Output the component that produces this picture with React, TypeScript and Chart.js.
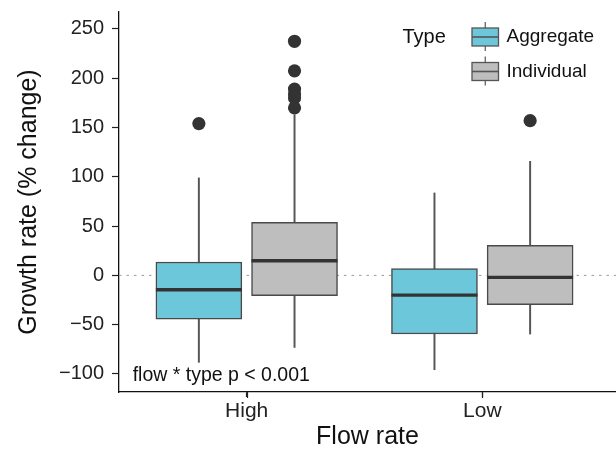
import React, { useEffect, useRef } from "react";
import { Chart, registerables } from "chart.js";

Chart.register(...registerables);

// ---------- data ----------
const flowRates = ["High", "Low"];
const types = ["Aggregate", "Individual"];
const typeColors = ["#6DC7DA", "#BEBEBE"];

// [type][flowRate]
const q1 = [
  [-44.3, -59.5],
  [-20.6, -29.7],
];
const medians = [
  [-14.5, -20.0],
  [14.9, -2.0],
];
const q3 = [
  [13.6, 6.8],
  [53.8, 30.5],
];
const whiskerLow = [
  [-88.2, -95.7],
  [-73.1, -59.5],
];
const whiskerHigh = [
  [98.9, 83.6],
  [163.0, 115.7],
];
// outliers [type][flowRate] -> values
const outliers = [
  [[154.0], []],
  [[237.5, 207.5, 189.0, 184.0, 180.0, 170.0], [157.0]],
];

const yTicks = [-100, -50, 0, 50, 100, 150, 200, 250];
const xTitle = "Flow rate";
const yTitle = "Growth rate (% change)";
const legendTitle = "Type";
const annotationText = "flow * type p < 0.001";

// ---------- style / layout constants ----------
const FONT = "'Liberation Sans', Arial, Helvetica, sans-serif";
const DODGE = [-0.203, 0.203];
const BOX_PX = 86;
const X_MIN = 0.458;
const X_MAX = 2.5675;
const Y_MIN = -118.3;
const Y_MAX = 267.2;
const ANNOT_X = 0.516;
const ANNOT_Y = -100;

const fmt = (v: number) => (v < 0 ? "\u2212" + Math.abs(v) : String(v));

const extrasPlugin = {
  id: "boxExtras",
  beforeDatasetsDraw(chart: any) {
    const { ctx, chartArea, scales } = chart;
    const y0 = scales.y.getPixelForValue(0);
    ctx.save();
    ctx.strokeStyle = "#9a9a9a";
    ctx.lineWidth = 1;
    ctx.setLineDash([2.5, 5]);
    ctx.beginPath();
    ctx.moveTo(chartArea.left, y0);
    ctx.lineTo(chartArea.right, y0);
    ctx.stroke();
    ctx.restore();
  },
  afterDatasetsDraw(chart: any) {
    const { ctx, scales } = chart;
    ctx.save();
    // medians
    chart.data.datasets.forEach((ds: any, di: number) => {
      if (ds._role !== "box") return;
      const meta = chart.getDatasetMeta(di);
      meta.data.forEach((el: any, i: number) => {
        const props = el.getProps(["x", "width"], true);
        const y = scales.y.getPixelForValue(medians[ds._type][i]);
        ctx.strokeStyle = "#333333";
        ctx.lineWidth = 3.4;
        ctx.beginPath();
        ctx.moveTo(props.x - props.width / 2, y);
        ctx.lineTo(props.x + props.width / 2, y);
        ctx.stroke();
      });
    });
    // annotation
    ctx.fillStyle = "#111111";
    ctx.font = `19.5px ${FONT}`;
    ctx.textAlign = "left";
    ctx.textBaseline = "alphabetic";
    ctx.fillText(
      annotationText,
      scales.x.getPixelForValue(ANNOT_X),
      scales.y.getPixelForValue(ANNOT_Y) + 7
    );
    ctx.restore();
  },
  afterDraw(chart: any) {
    const { ctx, chartArea, scales } = chart;
    ctx.save();
    // x tick marks
    ctx.strokeStyle = "#222222";
    ctx.lineWidth = 1.2;
    flowRates.forEach((_, i) => {
      const px = Math.round(scales.x.getPixelForValue(i + 1)) + 0.5;
      ctx.beginPath();
      ctx.moveTo(px, chartArea.bottom);
      ctx.lineTo(px, chartArea.bottom + 6);
      ctx.stroke();
    });
    // legend
    ctx.fillStyle = "#111111";
    ctx.font = `20px ${FONT}`;
    ctx.textBaseline = "middle";
    ctx.textAlign = "left";
    ctx.fillText(legendTitle, 402.5, 37);
    const keyX = 472;
    const keyW = 26.5;
    const rows = [37, 71.5];
    types.forEach((t, i) => {
      const cy = rows[i];
      const cx = keyX + keyW / 2;
      ctx.strokeStyle = "#555555";
      ctx.lineWidth = 1.2;
      ctx.beginPath();
      ctx.moveTo(cx, cy - 15);
      ctx.lineTo(cx, cy + 14);
      ctx.stroke();
      ctx.fillStyle = typeColors[i];
      ctx.fillRect(keyX, cy - 9, keyW, 18);
      ctx.strokeStyle = "#555555";
      ctx.lineWidth = 1.3;
      ctx.strokeRect(keyX, cy - 9, keyW, 18);
      ctx.lineWidth = 1.6;
      ctx.beginPath();
      ctx.moveTo(keyX, cy);
      ctx.lineTo(keyX + keyW, cy);
      ctx.stroke();
      ctx.fillStyle = "#111111";
      ctx.font = `19px ${FONT}`;
      ctx.fillText(t, 506.5, cy);
    });
    ctx.restore();
  },
};

export default function App() {
  const ref = useRef<HTMLCanvasElement | null>(null);

  useEffect(() => {
    document.body.style.margin = "0";
    const canvas = ref.current;
    if (!canvas) return;

    const datasets: any[] = [];
    types.forEach((t, ti) => {
      datasets.push({
        type: "bar",
        label: t + " whisker",
        _role: "whisker",
        _type: ti,
        data: flowRates.map((_, fi) => ({
          x: fi + 1 + DODGE[ti],
          y: [whiskerLow[ti][fi], whiskerHigh[ti][fi]],
        })),
        backgroundColor: "#555555",
        borderWidth: 0,
        barThickness: 1.3,
        grouped: false,
        order: 3,
      });
      datasets.push({
        type: "bar",
        label: t,
        _role: "box",
        _type: ti,
        data: flowRates.map((_, fi) => ({
          x: fi + 1 + DODGE[ti],
          y: [q1[ti][fi], q3[ti][fi]],
        })),
        backgroundColor: typeColors[ti],
        borderColor: "#4a4a4a",
        borderWidth: 1.5,
        borderSkipped: false,
        barThickness: BOX_PX,
        grouped: false,
        order: 2,
      });
      const pts: { x: number; y: number }[] = [];
      flowRates.forEach((_, fi) => {
        outliers[ti][fi].forEach((v) => pts.push({ x: fi + 1 + DODGE[ti], y: v }));
      });
      datasets.push({
        type: "scatter",
        label: t + " outliers",
        _role: "outlier",
        data: pts,
        backgroundColor: "#333333",
        borderWidth: 0,
        pointRadius: 6.6,
        pointHoverRadius: 6.6,
        order: 1,
      });
    });

    const chart = new Chart(canvas, {
      type: "bar",
      data: { datasets },
      options: {
        animation: false,
        responsive: false,
        devicePixelRatio: 1,
        layout: { autoPadding: false, padding: { top: 12, right: 0, bottom: 0, left: 0 } },
        plugins: { legend: { display: false }, tooltip: { enabled: false } },
        scales: {
          x: {
            type: "linear",
            min: X_MIN,
            max: X_MAX,
            offset: false,
            afterBuildTicks: (s: any) => {
              s.ticks = flowRates.map((_, i) => ({ value: i + 1 }));
            },
            afterFit: (s: any) => {
              s.height = 58;
              s.paddingLeft = 0;
              s.paddingRight = 0;
              s.paddingTop = 0;
              s.paddingBottom = 0;
            },
            grid: {
              offset: false,
              drawOnChartArea: false,
              drawTicks: true,
              tickLength: 5,
              tickColor: "#222222",
              tickWidth: 1.2,
            },
            border: { display: true, color: "#111111", width: 1.3 },
            ticks: {
              color: "#222222",
              font: { family: FONT, size: 21 },
              padding: 2,
              maxRotation: 0,
              autoSkip: false,
              callback: (_v: any, i: number) => flowRates[i],
            },
            title: {
              display: true,
              text: xTitle,
              color: "#111111",
              font: { family: FONT, size: 25, lineHeight: 1 },
              padding: { top: 0, bottom: 0 },
            },
          },
          y: {
            type: "linear",
            min: Y_MIN,
            max: Y_MAX,
            afterBuildTicks: (s: any) => {
              s.ticks = yTicks.map((v) => ({ value: v }));
            },
            afterFit: (s: any) => {
              s.width = 119;
              s.paddingLeft = 0;
              s.paddingRight = 0;
              s.paddingTop = 0;
              s.paddingBottom = 0;
            },
            grid: {
              offset: false,
              drawOnChartArea: false,
              drawTicks: true,
              tickLength: 7,
              tickColor: "#222222",
              tickWidth: 1.2,
            },
            border: { display: true, color: "#111111", width: 1.3 },
            ticks: {
              color: "#222222",
              font: { family: FONT, size: 20 },
              padding: 8,
              autoSkip: false,
              callback: (v: any) => fmt(Number(v)),
            },
            title: {
              display: true,
              text: yTitle,
              color: "#111111",
              font: { family: FONT, size: 25, lineHeight: 1 },
              padding: { top: 16.5, bottom: 0 },
            },
          },
        },
      } as any,
      plugins: [extrasPlugin],
    });

    return () => chart.destroy();
  }, []);

  return (
    <div style={{ width: 616, height: 450 }}>
      <canvas ref={ref} width={616} height={450} style={{ display: "block" }} />
    </div>
  );
}
